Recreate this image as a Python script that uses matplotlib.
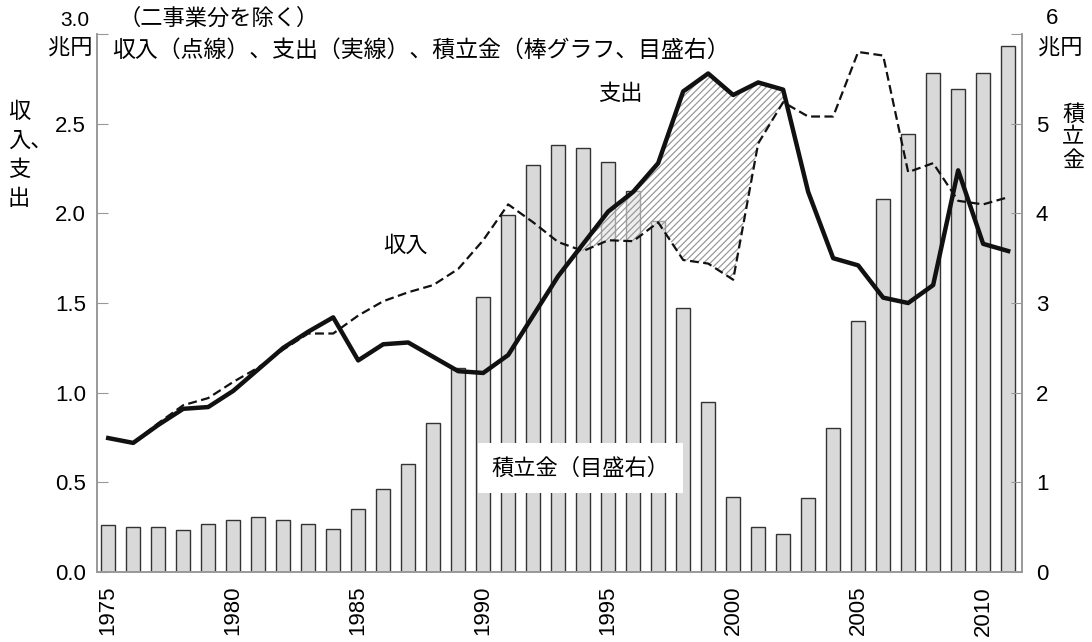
import matplotlib
matplotlib.use("Agg")
import matplotlib.pyplot as plt
import numpy as np

years = list(range(1975, 2012))
reserve = [0.52, 0.50, 0.50, 0.47, 0.53, 0.58, 0.61, 0.58, 0.54, 0.48,
           0.70, 0.93, 1.21, 1.66, 2.27, 3.07, 3.98, 4.54, 4.76, 4.73,
           4.57, 4.25, 3.91, 2.95, 1.90, 0.84, 0.50, 0.42, 0.82, 1.61,
           2.80, 4.16, 4.89, 5.57, 5.39, 5.57, 5.87]
expense = [0.747, 0.72, 0.82, 0.91, 0.92, 1.01, 1.13, 1.25, 1.34, 1.42,
           1.18, 1.27, 1.28, 1.20, 1.12, 1.11, 1.21, 1.43, 1.65, 1.83,
           2.01, 2.12, 2.28, 2.68, 2.78, 2.66, 2.73, 2.69, 2.12, 1.75,
           1.71, 1.53, 1.50, 1.60, 2.24, 1.83, 1.79]
income = [0.747, 0.72, 0.83, 0.93, 0.97, 1.06, 1.14, 1.24, 1.33, 1.33,
          1.43, 1.51, 1.56, 1.60, 1.69, 1.85, 2.05, 1.95, 1.84, 1.79,
          1.85, 1.845, 1.95, 1.74, 1.72, 1.63, 2.39, 2.62, 2.54, 2.54,
          2.90, 2.88, 2.23, 2.28, 2.07, 2.05, 2.09]
left_ticks = [0.0, 0.5, 1.0, 1.5, 2.0, 2.5, 3.0]
left_labels = ["0.0", "0.5", "1.0", "1.5", "2.0", "2.5", ""]
right_ticks = [0, 1, 2, 3, 4, 5, 6]
right_labels = ["0", "1", "2", "3", "4", "5", ""]
xtick_years = [1975, 1980, 1985, 1990, 1995, 2000, 2005, 2010]

JP = ['Noto Sans CJK JP', 'DejaVu Sans']
NUM = ['Liberation Sans', 'Noto Sans CJK JP', 'DejaVu Sans']
plt.rcParams['font.family'] = NUM
plt.rcParams['hatch.color'] = '#999999'
plt.rcParams['hatch.linewidth'] = 0.9

fig = plt.figure(figsize=(10.92, 6.42), dpi=100)
ax = fig.add_axes([0.0888, 0.109, 0.847, 0.838])
ax2 = ax.twinx()

ax2.bar(years, reserve, width=0.55, color='#d9d9d9', edgecolor='#333333', linewidth=1.0, zorder=1)
ax2.set_ylim(0, 6)
ax.set_zorder(ax2.get_zorder() + 1)
ax.patch.set_visible(False)

yrs = np.array(years)
exp = np.array(expense)
inc = np.array(income)
mask = (yrs >= 1993) & (yrs <= 2002)
ax.fill_between(yrs, inc, exp, where=mask & (exp >= inc), interpolate=True,
                facecolor=(1, 1, 1, 0.55), edgecolor='#999999', hatch='/////', linewidth=0, zorder=2)
ax.plot(yrs, inc, color='#111111', lw=1.6, dashes=(4, 2), zorder=3)
ax.plot(yrs, exp, color='#111111', lw=3.2, zorder=4, solid_joinstyle='round')

ax.set_xlim(1974.55, 2011.55)
ax.set_ylim(0, 3.0)
ax.set_yticks(left_ticks)
ax.set_yticklabels(left_labels)
ax2.set_yticks(right_ticks)
ax2.set_yticklabels(right_labels)
ax.set_xticks(xtick_years)
ax.set_xticklabels([str(y) for y in xtick_years])

for a in (ax, ax2):
    for s in a.spines.values():
        s.set_color('#999999')
        s.set_linewidth(1.2)
    a.spines['top'].set_visible(False)
ax.tick_params(axis='y', direction='in', length=8, color='#999999', pad=8, labelsize=16)
ax2.tick_params(axis='y', direction='in', length=8, color='#999999', pad=10, labelsize=16)
ax.tick_params(axis='x', length=0, pad=10, labelsize=16, labelrotation=90)

# top-of-axis labels with units
fig.text(75/1092, 1 - 20/642, "3.0", fontsize=15, ha='center', va='center')
fig.text(70/1092, 1 - 48/642, "兆円", fontsize=16, family=JP, ha='center', va='center')
fig.text(1052/1092, 1 - 18/642, "6", fontsize=16, ha='center', va='center')
fig.text(1060/1092, 1 - 48/642, "兆円", fontsize=16, family=JP, ha='center', va='center')

# texts
fig.text(118/1092, 1 - 18/642, "（二事業分を除く）", fontsize=16, family=JP, ha='left', va='center')
fig.text(112/1092, 1 - 50/642, "収入（点線）、支出（実線）、積立金（棒グラフ、目盛右）", fontsize=16.5, family=JP, ha='left', va='center')
fig.text(8/1092, 1 - 155/642, "収\n入、\n支\n出", fontsize=16, family=JP, ha='left', va='center', linespacing=1.35, multialignment='left')
fig.text(1062/1092, 1 - 137/642, "積\n立\n金", fontsize=16, family=JP, ha='left', va='center', linespacing=1.0)
ax.text(1986.9, 1.82, "収入", fontsize=16, family=JP, ha='center', va='center')
ax.text(1995.5, 2.67, "支出", fontsize=16, family=JP, ha='center', va='center')
ax.text(1993.9, 0.58, "積立金（目盛右）", fontsize=16, family=JP, ha='center', va='center', zorder=6,
        bbox=dict(boxstyle='square,pad=0.6', facecolor='white', edgecolor='none'))

fig.savefig("out.png", dpi=100)
